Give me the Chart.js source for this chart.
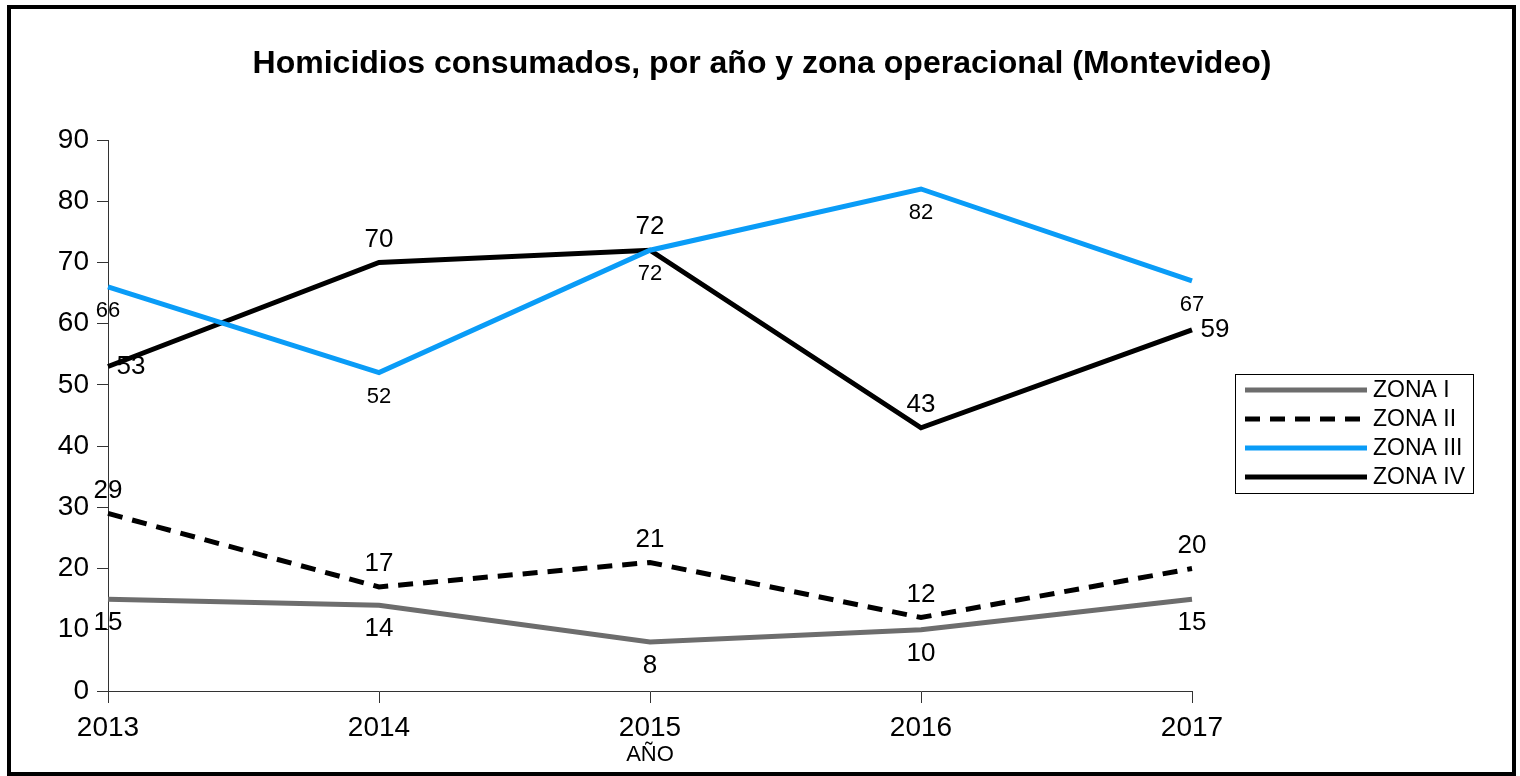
<!DOCTYPE html>
<html>
<head>
<meta charset="utf-8">
<script src="https://cdn.jsdelivr.net/npm/chart.js@4.4.0/dist/chart.umd.min.js"></script>
<style>
  html, body { margin: 0; padding: 0; background: #fff; }
  #wrap { position: relative; width: 1520px; height: 776px; overflow: hidden; }
  #frame { position: absolute; left: 7px; top: 5px; width: 1509px; height: 771px; box-sizing: border-box; border: 4px solid #000; pointer-events: none; }
  canvas { position: absolute; left: 0; top: 0; }
</style>
</head>
<body>
<div id="wrap">
  <canvas id="c" width="1520" height="776"></canvas>
  <div id="frame"></div>
</div>
<script>
const categories = ['2013', '2014', '2015', '2016', '2017'];
const seriesNames = ['ZONA I', 'ZONA II', 'ZONA III', 'ZONA IV'];
const zona1 = [15, 14, 8, 10, 15];
const zona2 = [29, 17, 21, 12, 20];
const zona3 = [66, 52, 72, 82, 67];
const zona4 = [53, 70, 72, 43, 59];
const yMin = 0, yMax = 90, yStep = 10;
const titleText = 'Homicidios consumados, por año y zona operacional (Montevideo)';
const xTitle = 'AÑO';

const FONT = "'Liberation Sans', Arial, sans-serif";

// label placement per dataset (style only)
const labelPlacement = [
  ['below', 'below', 'below', 'below', 'below'],
  ['above', 'above', 'above', 'above', 'above'],
  ['below', 'below', 'below', 'below', 'below'],
  ['right', 'above', 'above', 'above', 'right']
];
const labelSize = [26, 26, 22, 26];

const titlePlugin = {
  id: 'customTitle',
  afterDraw(chart) {
    const ctx = chart.ctx;
    ctx.save();
    ctx.font = 'bold 32px ' + FONT;
    ctx.fillStyle = '#000';
    ctx.textAlign = 'center';
    ctx.textBaseline = 'alphabetic';
    ctx.fillText(titleText, 762, 73);
    ctx.restore();
  }
};

const dataLabelPlugin = {
  id: 'dataLabels',
  afterDatasetsDraw(chart) {
    const ctx = chart.ctx;
    chart.data.datasets.forEach((ds, di) => {
      const meta = chart.getDatasetMeta(di);
      meta.data.forEach((pt, i) => {
        const pos = labelPlacement[di][i];
        let x = pt.x, y = pt.y;
        if (pos === 'below') y += 24;
        else if (pos === 'above') y -= 23;
        else if (pos === 'right') x += 23;
        ctx.save();
        ctx.font = labelSize[di] + 'px ' + FONT;
        ctx.fillStyle = '#000';
        ctx.textAlign = 'center';
        ctx.textBaseline = 'middle';
        ctx.fillText(String(ds.data[i]), x, y);
        ctx.restore();
      });
    });
  }
};

const legendPlugin = {
  id: 'customLegend',
  afterDraw(chart) {
    const ctx = chart.ctx;
    const bx = 1235, by = 374, bw = 238, bh = 119;
    ctx.save();
    ctx.fillStyle = '#fff';
    ctx.fillRect(bx, by, bw, bh);
    ctx.strokeStyle = '#000';
    ctx.lineWidth = 1;
    ctx.strokeRect(bx + 0.5, by + 0.5, bw, bh);
    chart.data.datasets.forEach((ds, i) => {
      const cy = by + 16 + i * 29;
      ctx.beginPath();
      ctx.strokeStyle = ds.borderColor;
      ctx.lineWidth = ds.borderWidth;
      ctx.setLineDash(ds.borderDash || []);
      ctx.moveTo(bx + 10, cy);
      ctx.lineTo(bx + 132, cy);
      ctx.stroke();
      ctx.setLineDash([]);
      ctx.fillStyle = '#000';
      ctx.font = '23px ' + FONT;
      ctx.textAlign = 'left';
      ctx.textBaseline = 'middle';
      ctx.fillText(ds.label, bx + 138, cy + 1);
    });
    ctx.restore();
  }
};

new Chart(document.getElementById('c'), {
  type: 'line',
  data: {
    labels: categories,
    datasets: [
      { label: seriesNames[0], data: zona1, borderColor: '#6d6d6d', borderWidth: 5 },
      { label: seriesNames[1], data: zona2, borderColor: '#000000', borderWidth: 5, borderDash: [15, 10] },
      { label: seriesNames[2], data: zona3, borderColor: '#0a9cf7', borderWidth: 5 },
      { label: seriesNames[3], data: zona4, borderColor: '#000000', borderWidth: 5 }
    ]
  },
  options: {
    responsive: false,
    animation: false,
    devicePixelRatio: 1,
    elements: { point: { radius: 0, hoverRadius: 0 }, line: { tension: 0, borderCapStyle: 'butt' } },
    layout: { padding: { left: 8, right: 328, top: 140, bottom: 0 } },
    plugins: {
      legend: { display: false },
      tooltip: { enabled: false },
      title: { display: false }
    },
    scales: {
      x: {
        type: 'category',
        offset: false,
        grid: { drawOnChartArea: false, drawTicks: true, tickLength: 12, color: '#333', offset: false },
        border: { display: true, color: '#333', width: 1 },
        ticks: { color: '#000', font: { family: FONT, size: 28 }, padding: 8, maxRotation: 0, autoSkip: false },
        title: { display: true, text: xTitle, color: '#000', font: { family: FONT, size: 22 }, padding: { top: 0, bottom: 8 } },
        afterFit(scale) { scale.height = 85; }
      },
      y: {
        min: yMin, max: yMax,
        grid: { drawOnChartArea: false, drawTicks: true, tickLength: 11, color: '#333' },
        border: { display: true, color: '#333', width: 1 },
        ticks: { stepSize: yStep, color: '#000', font: { family: FONT, size: 28 }, padding: 8 },
        afterFit(scale) { scale.width = 100; }
      }
    }
  },
  plugins: [titlePlugin, dataLabelPlugin, legendPlugin]
});
</script>
</body>
</html>
